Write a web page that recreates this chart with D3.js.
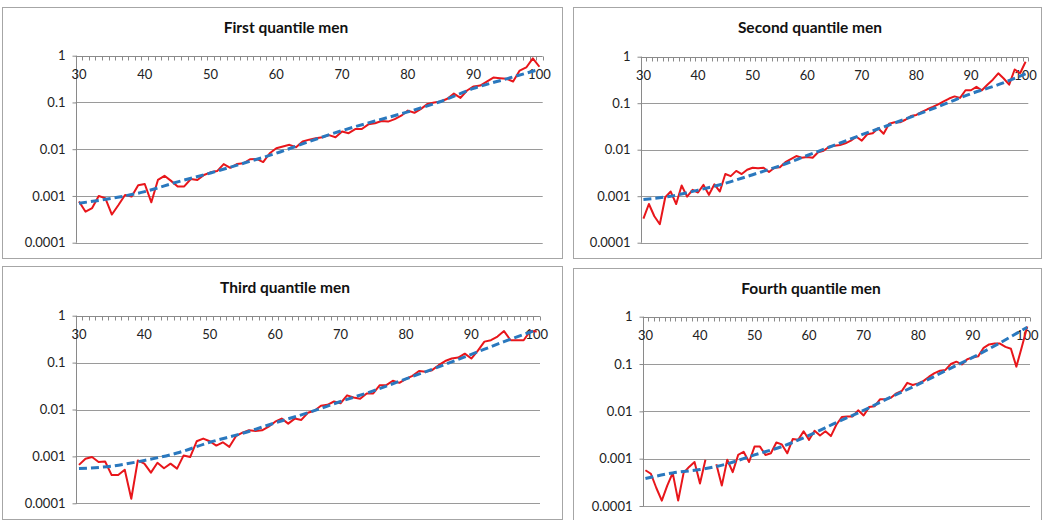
<!DOCTYPE html>
<html>
<head>
<meta charset="utf-8">
<script src="https://cdn.jsdelivr.net/npm/d3@7"></script>
<style>
  html, body { margin: 0; padding: 0; background: #fff; }
  svg { display: block; }
  text { font-family: Lato, "Open Sans", "DejaVu Sans", sans-serif; }
</style>
</head>
<body>
<svg id="chart" width="1044" height="520"></svg>
<script>
// ---------------- DATA ----------------
const titles = ["First quantile men", "Second quantile men", "Third quantile men", "Fourth quantile men"];

const ages = [30,31,32,33,34,35,36,37,38,39,40,41,42,43,44,45,46,47,48,49,50,
              51,52,53,54,55,56,57,58,59,60,61,62,63,64,65,66,67,68,69,70,
              71,72,73,74,75,76,77,78,79,80,81,82,83,84,85,86,87,88,89,90,
              91,92,93,94,95,96,97,98,99,100];

const xTickLabels = ["30","40","50","60","70","80","90","100"];
const yTickValues = [1, 0.1, 0.01, 0.001, 0.0001];
const yTickLabels = ["1", "0.1", "0.01", "0.001", "0.0001"];

// observed death rates (red), ages 30..100
const q1Observed = [0.00076,0.00046,0.00055,0.001,0.0009,0.0004,0.00064,0.00105,0.00097,0.0017,0.0018,
  0.00073,0.0022,0.0027,0.0021,0.0016,0.0016,0.0023,0.0022,0.0028,0.0032,
  0.0034,0.0048,0.004,0.0048,0.005,0.0061,0.0062,0.0053,0.0082,0.0105,
  0.0114,0.0124,0.011,0.0146,0.016,0.0172,0.018,0.02,0.018,0.024,
  0.022,0.027,0.027,0.034,0.036,0.04,0.039,0.044,0.052,0.067,
  0.06,0.073,0.093,0.1,0.105,0.12,0.155,0.125,0.18,0.22,
  0.23,0.28,0.34,0.33,0.32,0.28,0.48,0.56,0.88,0.58];

const q2Observed = [0.00033,0.00068,0.00037,0.00025,0.00095,0.00126,0.00068,0.0017,0.00098,0.00137,0.0012,
  0.00175,0.00107,0.0018,0.00126,0.003,0.0027,0.0035,0.003,0.0037,0.0041,
  0.004,0.0041,0.0033,0.0041,0.0042,0.0054,0.0063,0.0073,0.0067,0.007,
  0.0067,0.0088,0.0095,0.0116,0.0122,0.0126,0.0137,0.0157,0.019,0.0157,
  0.0215,0.0225,0.029,0.022,0.036,0.039,0.039,0.044,0.053,0.056,
  0.065,0.074,0.083,0.094,0.11,0.126,0.14,0.13,0.19,0.19,
  0.225,0.19,0.25,0.32,0.44,0.34,0.25,0.53,0.44,0.78];

const q3Observed = [0.00066,0.00089,0.00097,0.00076,0.00078,0.0004,0.0004,0.00052,0.000125,0.00082,0.0007,
  0.00045,0.00073,0.00056,0.0007,0.00055,0.00105,0.00097,0.0021,0.0024,0.0021,
  0.0017,0.002,0.0016,0.0027,0.0032,0.0036,0.0035,0.0036,0.0043,0.0055,
  0.0064,0.005,0.0064,0.006,0.0085,0.0094,0.012,0.0126,0.0148,0.0136,
  0.02,0.018,0.017,0.022,0.022,0.033,0.033,0.041,0.037,0.045,
  0.052,0.066,0.064,0.069,0.088,0.108,0.122,0.128,0.155,0.122,
  0.18,0.28,0.3,0.36,0.47,0.3,0.3,0.3,0.47,0.46];

const q4Observed = [0.00057,0.00048,0.00024,0.00013,0.00027,0.0005,0.00013,0.0005,0.00067,0.00085,0.0003,
  0.00095,null,0.00076,0.00027,0.00095,0.00052,0.0012,0.0014,0.00085,0.0018,
  0.0018,0.0012,0.0013,0.0022,0.002,0.0013,0.0026,0.0025,0.0038,0.0025,
  0.0039,0.0031,0.0038,0.003,0.0052,0.0076,0.0078,0.0078,0.0105,0.0082,
  0.0123,0.0128,0.018,0.018,0.0194,0.024,0.027,0.04,0.036,0.039,
  0.044,0.054,0.064,0.072,0.075,0.1,0.112,0.098,0.126,0.138,
  0.145,0.22,0.26,0.27,0.27,0.23,0.21,0.088,0.23,0.62];

// fitted curve (blue dashed), read at these ages
const fitAges = [30,35,40,45,50,55,60,65,70,75,80,85,90,95,100];
const q1Fitted = [0.0007,0.00089,0.00124,0.002,0.0031,0.005,0.0082,0.0146,0.025,0.04,0.063,0.105,0.2,0.32,0.51];
const q2Fitted = [0.00085,0.001,0.00135,0.0019,0.0029,0.0045,0.0075,0.0125,0.021,0.034,0.056,0.094,0.16,0.25,0.43];
const q3Fitted = [0.00055,0.00062,0.00082,0.00118,0.002,0.0031,0.0052,0.0085,0.0148,0.025,0.045,0.081,0.15,0.28,0.5];
const q4Fitted = [0.00038,0.0005,0.00059,0.00078,0.0012,0.0018,0.0031,0.0058,0.0105,0.02,0.037,0.072,0.138,0.28,0.6];

// ---------------- LAYOUT ----------------
const layout = [
  { box: [2, 7, 562, 258],   plot: [75.7, 542.7, 55.7, 242.7], title: [286, 33] },
  { box: [573, 7, 1041, 258], plot: [640.7, 1028.3, 56.7, 242.7], title: [810, 33] },
  { box: [2, 266, 562, 519], plot: [75.7, 540, 315.7, 503.3], title: [285, 293] },
  { box: [573, 268, 1041, 520], plot: [642.7, 1030, 316.7, 506], title: [811, 294] }
];
const observed = [q1Observed, q2Observed, q3Observed, q4Observed];
const fitted = [q1Fitted, q2Fitted, q3Fitted, q4Fitted];

const svg = d3.select("#chart");
const gridColor = "#9a9a9a";
const axisColor = "#8a8a8a";
const redColor = "#e8161b";
const blueColor = "#2a78be";

layout.forEach((L, i) => {
  const g = svg.append("g");
  const [bx0, by0, bx1, by1] = L.box;
  g.append("rect")
    .attr("x", bx0 + 0.5).attr("y", by0 + 0.5)
    .attr("width", bx1 - bx0).attr("height", by1 - by0)
    .attr("fill", "#fff").attr("stroke", "#a6a6a6").attr("stroke-width", 1);

  const [px0, px1, py0, py1] = L.plot;
  const x = d3.scaleBand().domain(ages).range([px0, px1]).padding(0);
  const xc = a => x(a) + x.bandwidth() / 2;
  const y = d3.scaleLog().domain([1, 0.0001]).range([py0, py1]);

  // title
  g.append("text")
    .attr("x", L.title[0]).attr("y", L.title[1])
    .attr("text-anchor", "middle")
    .attr("font-weight", "bold").attr("font-size", "15.5px").attr("fill", "#111")
    .text(titles[i]);

  // horizontal gridlines
  g.append("g").selectAll("line")
    .data(yTickValues.slice(1))
    .join("line")
    .attr("x1", px0).attr("x2", px1)
    .attr("y1", d => Math.round(y(d)) + 0.5).attr("y2", d => Math.round(y(d)) + 0.5)
    .attr("stroke", gridColor).attr("stroke-width", 1);

  // y axis
  const yAxis = d3.axisLeft(y)
    .tickValues(yTickValues)
    .tickFormat((d, k) => yTickLabels[k])
    .tickSize(4).tickPadding(7);
  const ya = g.append("g").attr("transform", `translate(${Math.round(px0) + 0.5},0)`).call(yAxis);
  ya.select(".domain").attr("stroke", axisColor).attr("d", `M0,${y(1)}V${y(0.0001)}`);
  ya.selectAll(".tick line").attr("stroke", axisColor);
  ya.selectAll(".tick text").attr("font-size", "13px").attr("fill", "#222")
    .attr("font-family", "Lato, 'Open Sans', sans-serif");

  // x axis (at top, value 1) with a tick at each category boundary
  const axY = Math.round(y(1)) + 0.5;
  g.append("line")
    .attr("x1", px0).attr("x2", px1).attr("y1", axY).attr("y2", axY)
    .attr("stroke", axisColor);
  const boundaries = ages.map(a => x(a)).concat([px1]);
  g.append("g").selectAll("line")
    .data(boundaries)
    .join("line")
    .attr("x1", d => Math.round(d) + 0.5).attr("x2", d => Math.round(d) + 0.5)
    .attr("y1", axY).attr("y2", axY + 4)
    .attr("stroke", axisColor);
  g.append("g").selectAll("text")
    .data(xTickLabels)
    .join("text")
    .attr("x", d => xc(+d))
    .attr("y", axY + 22.5)
    .attr("text-anchor", "middle")
    .attr("font-size", "13px").attr("fill", "#222")
    .text(d => d);

  // observed (red)
  const obs = ages.map((a, k) => ({ a, v: observed[i][k] }));
  const line = d3.line()
    .defined(d => d.v != null && d.v > 0)
    .x(d => xc(d.a)).y(d => y(d.v));
  g.append("path").datum(obs)
    .attr("d", line)
    .attr("fill", "none").attr("stroke", redColor).attr("stroke-width", 2)
    .attr("stroke-linejoin", "round");

  // fitted (blue dashed)
  const fit = fitAges.map((a, k) => ({ a, v: fitted[i][k] }));
  const fitLine = d3.line().curve(d3.curveMonotoneX).x(d => xc(d.a)).y(d => y(d.v));
  g.append("path").datum(fit)
    .attr("d", fitLine)
    .attr("fill", "none").attr("stroke", blueColor).attr("stroke-width", 3)
    .attr("stroke-dasharray", "8,4");
});
</script>
</body>
</html>
